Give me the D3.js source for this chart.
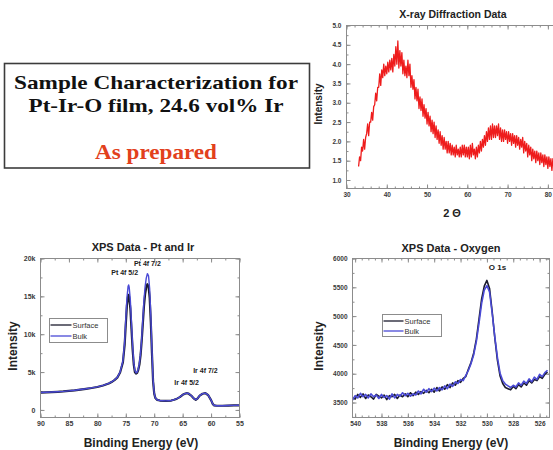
<!DOCTYPE html>
<html><head><meta charset="utf-8">
<script src="https://cdn.jsdelivr.net/npm/d3@7"></script>
<style>
html,body{margin:0;padding:0;background:#fff;}
svg{display:block;}
</style></head>
<body>
<script>
// ---------- DATA ----------
const titleLines = ["Sample Characterization for", "Pt-Ir-O film, 24.6 vol% Ir"];
const subTitle = "As prepared";

// X-ray diffraction (2 theta vs intensity)
const xrdTheta = [33,33.25,33.5,33.75,34,34.25,34.5,34.75,35,35.25,35.5,35.75,36,36.25,36.5,36.75,37,37.25,37.5,37.75,
38,38.25,38.5,38.75,39,39.25,39.5,39.75,40,40.25,40.5,40.75,41,41.25,41.5,41.75,42,42.25,42.5,42.75,
43,43.25,43.5,43.75,44,44.25,44.5,44.75,45,45.25,45.5,45.75,46,46.25,46.5,46.75,47,47.25,47.5,47.75,
48,48.25,48.5,48.75,49,49.25,49.5,49.75,50,50.25,50.5,50.75,51,51.25,51.5,51.75,52,52.25,52.5,52.75,
53,53.25,53.5,53.75,54,54.25,54.5,54.75,55,55.25,55.5,55.75,56,56.25,56.5,56.75,57,57.25,57.5,57.75,
58,58.25,58.5,58.75,59,59.25,59.5,59.75,60,60.25,60.5,60.75,61,61.25,61.5,61.75,62,62.25,62.5,62.75,
63,63.25,63.5,63.75,64,64.25,64.5,64.75,65,65.25,65.5,65.75,66,66.25,66.5,66.75,67,67.25,67.5,67.75,
68,68.25,68.5,68.75,69,69.25,69.5,69.75,70,70.25,70.5,70.75,71,71.25,71.5,71.75,72,72.25,72.5,72.75,
73,73.25,73.5,73.75,74,74.25,74.5,74.75,75,75.25,75.5,75.75,76,76.25,76.5,76.75,77,77.25,77.5,77.75,
78,78.25,78.5,78.75,79,79.25,79.5,79.75,80,80.25,80.5,80.75,81,81.25,81.5,81.75,82,82.25,82.5,82.75,83];
const xrdIntensity = [1.35,1.6,1.5,1.85, 1.75,2.05,1.8,2.1, 2.2,2.45,2.15,2.5, 2.5,2.75,2.55,2.9, 2.95,3.25,3.05,3.4,
3.4,3.75,3.45,3.85, 3.65,4.0,3.7,3.95, 3.75,4.05,3.8,4.1, 3.85,4.15,3.8,4.25, 3.95,4.45,4.0,4.6,
3.9,4.35,3.95,4.3, 3.75,4.1,3.7,3.95, 3.65,4.1,3.7,4.0, 3.4,3.7,3.35,3.6, 3.1,3.4,3.05,3.35,
2.85,3.15,2.8,3.1, 2.65,2.95,2.6,2.85, 2.45,2.75,2.4,2.65, 2.25,2.55,2.2,2.5, 2.1,2.4,2.05,2.3,
1.95,2.25,1.9,2.15, 1.8,2.1,1.8,2.0, 1.7,2.0,1.7,1.95, 1.65,1.9,1.65,1.85, 1.6,1.9,1.65,1.8,
1.6,1.85,1.6,1.9, 1.65,1.9,1.6,1.85, 1.6,1.85,1.55,1.9, 1.6,1.95,1.65,1.8, 1.55,1.85,1.6,1.9,
1.7,2.0,1.75,2.05, 1.85,2.15,1.9,2.25, 2.0,2.35,2.05,2.4, 2.05,2.45,2.1,2.4, 2.1,2.4,2.15,2.45,
2.05,2.35,2.0,2.3, 2.0,2.3,2.05,2.25, 1.95,2.25,2.0,2.2, 1.9,2.2,1.95,2.15, 1.85,2.15,1.9,2.1,
1.8,2.05,1.85,2.1, 1.7,2.0,1.75,1.95, 1.6,1.9,1.65,1.85, 1.5,1.8,1.55,1.75, 1.45,1.75,1.5,1.7,
1.4,1.7,1.45,1.65, 1.35,1.65,1.4,1.6, 1.3,1.6,1.35,1.55, 1.25,1.55,1.3,1.5, 1.2,1.45,1.2,1.4, 1.15];
const xrdXTicks = [30,40,50,60,70,80];
const xrdXTickLabels = ["30","40","50","60","70","80"];
const xrdYTicks = [1.0,1.5,2.0,2.5,3.0,3.5,4.0,4.5,5.0];
const xrdYTickLabels = ["1.0","1.5","2.0","2.5","3.0","3.5","4.0","4.5","5.0"];

// XPS Pt and Ir
const ptEnergy = [90,89,88,87,86,85,84,83,82,81, 80,79,78,77.5,77,76.5,76,75.5,75.2,75,
74.8,74.6,74.5,74.4,74.2,74,73.8,73.6,73.4,73.2, 73,72.8,72.6,72.4,72.2,72,71.8,71.6,71.4,71.2,
71,70.8,70.6,70.4,70.2,70,69.8,69.5,69,68, 67,66.5,66,65.5,65,64.5,64.2,64,63.5,63,
62.7,62.4,62,61.5,61,60.5,60,59.7,59.5,59, 58,57,56,55];
const ptSurface = [2280,2320,2350,2390,2440,2510,2590,2690,2790,2900, 3030,3230,3480,3680,3930,4270,4950,6300,8600,11300,
13800,15000,15200,14900,13400,10700,8000,6000,5000,4800, 4900,5300,6000,7200,9100,11400,13700,15300,16200,16600,
16300,14800,11600,7500,3800,2150,1580,1330,1240,1190, 1240,1340,1490,1690,1990,2170,2210,2170,1890,1490,
1340,1490,1890,2140,2210,1940,1290,790,610,550, 550,570,590,610];
const ptBulk = [2300,2330,2360,2400,2450,2520,2600,2700,2800,2920, 3050,3250,3500,3700,3950,4300,5000,6500,9000,12000,
14800,16300,16500,16200,14500,11500,8500,6300,5200,4900, 5000,5400,6200,7500,9500,12000,14500,16300,17400,18000,
17700,16000,12500,8000,4000,2200,1600,1350,1250,1200, 1250,1350,1500,1700,2000,2180,2220,2180,1900,1500,
1350,1500,1900,2150,2220,1950,1300,800,620,560, 560,580,600,620];
const ptXTicks = [90,85,80,75,70,65,60,55];
const ptXTickLabels = ["90","85","80","75","70","65","60","55"];
const ptYTicks = [0,5000,10000,15000,20000];
const ptYTickLabels = ["0","5k","10k","15k","20k"];
const ptPeakLabels = ["Pt 4f 7/2","Pt 4f 5/2","Ir 4f 7/2","Ir 4f 5/2"];
const ptPeakEnergy = [71.2,75.2,61.0,64.3];
const ptPeakLevel = [19000,17800,4900,3300];

// XPS Oxygen
const oEnergy = [540.2,540,539.8,539.6,539.4, 539.2,539,538.8,538.6,538.4, 538.2,538,537.8,537.6,537.4,
537.2,537,536.8,536.6,536.4, 536.2,536,535.8,535.6,535.4, 535.2,535,534.8,534.6,534.4,
534.2,534,533.8,533.6,533.4, 533.2,533,532.8,532.6,532.4, 532.2,532,531.8,531.6,531.4,
531.2,531,530.8,530.6,530.4, 530.2,530,529.8,529.6,529.4, 529.2,529,528.8,528.6,528.4,
528.2,528,527.8,527.6,527.4, 527.2,527,526.8,526.6,526.4, 526.2,526,525.8,525.6,525.4];
const oSurface = [3580,3560,3640,3590,3650, 3570,3630,3600,3560,3640, 3610,3580,3630,3550,3620,
3600,3640,3570,3630,3600, 3650,3600,3670,3620,3680, 3640,3690,3660,3710,3670,
3730,3680,3760,3700,3770, 3730,3810,3760,3840,3800, 3880,3850,3920,3950,4080,
4200,4360,4600,4950,5300, 5520,5620,5480,5080,4620, 4230,3960,3830,3760,3740,
3720,3780,3740,3810,3770, 3840,3800,3880,3840,3900, 3880,3950,3920,3990,4030];
const oBulk = [3540,3620,3580,3660,3600, 3640,3580,3650,3600,3630, 3570,3640,3590,3620,3560,
3650,3580,3640,3610,3670, 3620,3660,3610,3650,3630, 3700,3650,3730,3680,3740,
3690,3750,3700,3760,3720, 3790,3740,3820,3780,3860, 3830,3900,3880,3970,4060,
4180,4330,4560,4880,5220, 5450,5530,5420,5050,4640, 4280,4010,3880,3820,3790,
3760,3800,3770,3840,3800, 3870,3830,3910,3860,3940, 3900,3990,3950,4020,4060];
const oXTicks = [540,538,536,534,532,530,528,526];
const oXTickLabels = ["540","538","536","534","532","530","528","526"];
const oYTicks = [3500,4000,4500,5000,5500,6000];
const oYTickLabels = ["3500","4000","4500","5000","5500","6000"];
const oPeakLabels = ["O 1s"];
const oPeakEnergy = [529.2];
const oPeakLevel = [5800];

const seriesNames = ["Surface","Bulk"];

// ---------- DRAW ----------
const W = 553, H = 450;
const svg = d3.select("body").append("svg").attr("width", W).attr("height", H);
const SANS = "Liberation Sans, Arial, Helvetica, sans-serif";
const FRAME = "#8c8c8c";
const TICKTXT = "#3a3a3a";

// Title box
svg.append("rect").attr("x",4.5).attr("y",63.5).attr("width",305).attr("height",104.5)
  .attr("fill","none").attr("stroke","#3c3c3c").attr("stroke-width",1.6);
const titleFont = "Liberation Serif, Times New Roman, serif";
const titleWidths = [284, 255];
titleLines.forEach((t,i)=>{
  svg.append("text").attr("x",156).attr("y",[89,112][i]).attr("text-anchor","middle")
    .attr("font-family",titleFont).attr("font-weight","bold").attr("font-size",19.5)
    .attr("textLength",titleWidths[i]).attr("lengthAdjust","spacingAndGlyphs")
    .attr("fill","#111").text(t);
});
svg.append("text").attr("x",156).attr("y",159).attr("text-anchor","middle")
  .attr("font-family",titleFont).attr("font-weight","bold").attr("font-size",21)
  .attr("textLength",122).attr("lengthAdjust","spacingAndGlyphs")
  .attr("fill","#e2401c").text(subTitle);

function drawPanel(p){
  const x = d3.scaleLinear().domain(p.xDomain).range([p.left,p.right]);
  const y = d3.scaleLinear().domain(p.yDomain).range([p.bottom,p.top]);
  const g = svg.append("g");
  const clipId = p.id + "-clip";
  svg.append("clipPath").attr("id",clipId).append("rect")
    .attr("x",p.left).attr("y",p.top).attr("width",p.right-p.left).attr("height",p.bottom-p.top);

  // minor ticks
  const xMinor = d3.range(p.xMinor[0], p.xMinor[1]+1e-9, p.xMinor[2]);
  const yMinor = d3.range(p.yMinor[0], p.yMinor[1]+1e-9, p.yMinor[2]);
  const styleAxis = sel => { sel.select(".domain").remove(); sel.selectAll("line").attr("stroke",FRAME); };
  const minor = [
    [d3.axisBottom(x), p.bottom, "x"],[d3.axisTop(x), p.top, "x"],
    [d3.axisLeft(y), p.left, "y"],[d3.axisRight(y), p.right, "y"]];
  minor.forEach(([ax,pos,dim])=>{
    ax.tickValues(dim==="x"?xMinor:yMinor).tickSizeInner(-2).tickSizeOuter(0).tickFormat("");
    g.append("g").attr("transform", dim==="x"?`translate(0,${pos})`:`translate(${pos},0)`).call(ax).call(styleAxis);
  });
  // major ticks (labels on bottom/left)
  const axB = d3.axisBottom(x).tickValues(p.xTicks).tickSizeInner(-4).tickSizeOuter(0).tickPadding(4)
    .tickFormat((d,i)=>p.xTickLabels[i]);
  const axT = d3.axisTop(x).tickValues(p.xTicks).tickSizeInner(-4).tickSizeOuter(0).tickFormat("");
  const axL = d3.axisLeft(y).tickValues(p.yTicks).tickSizeInner(-4).tickSizeOuter(0).tickPadding(p.yPad||5)
    .tickFormat((d,i)=>p.yTickLabels[i]);
  const axR = d3.axisRight(y).tickValues(p.yTicks).tickSizeInner(-4).tickSizeOuter(0).tickFormat("");
  const lab = sel => sel.selectAll("text").attr("font-family",SANS).attr("font-size",p.tickFont||7)
    .attr("font-weight","bold").attr("fill",TICKTXT);
  g.append("g").attr("transform",`translate(0,${p.bottom})`).call(axB).call(styleAxis).call(lab);
  g.append("g").attr("transform",`translate(0,${p.top})`).call(axT).call(styleAxis);
  g.append("g").attr("transform",`translate(${p.left},0)`).call(axL).call(styleAxis).call(lab);
  g.append("g").attr("transform",`translate(${p.right},0)`).call(axR).call(styleAxis);

  // data
  const line = d3.line().x(d=>x(d[0])).y(d=>y(d[1]));
  p.series.forEach(s=>{
    g.append("path").datum(s.x.map((v,i)=>[v,s.y[i]]))
      .attr("clip-path",`url(#${clipId})`).attr("fill","none")
      .attr("stroke",s.color).attr("stroke-width",s.width).attr("stroke-linejoin","round")
      .attr("d",line);
  });

  // frame
  g.append("rect").attr("x",p.left).attr("y",p.top).attr("width",p.right-p.left).attr("height",p.bottom-p.top)
    .attr("fill","none").attr("stroke",FRAME).attr("stroke-width",1);

  // titles
  g.append("text").attr("x",p.titleX).attr("y",p.titleY).attr("text-anchor","middle")
    .attr("font-family",SANS).attr("font-weight","bold").attr("font-size",p.titleSize).attr("fill","#222").text(p.title);
  g.append("text").attr("x",p.xLabelX).attr("y",p.xLabelY).attr("text-anchor","middle")
    .attr("font-family",SANS).attr("font-weight","bold").attr("font-size",p.xLabelSize).attr("fill","#222").text(p.xLabel);
  g.append("text").attr("transform",`translate(${p.yLabelX},${p.yLabelY}) rotate(-90)`).attr("text-anchor","middle")
    .attr("font-family",SANS).attr("font-weight","bold").attr("font-size",p.yLabelSize).attr("fill","#222").text(p.yLabel);

  // annotations
  (p.notes||[]).forEach(n=>{
    g.append("text").attr("x",x(n.e)).attr("y",y(n.v)).attr("text-anchor","middle")
      .attr("font-family",SANS).attr("font-size",n.size).attr("font-weight",600).attr("fill","#222").text(n.t);
  });

  // legend
  if (p.legend){
    const L = p.legend;
    g.append("rect").attr("x",L.x).attr("y",L.y).attr("width",L.w).attr("height",L.h)
      .attr("fill","#fff").attr("stroke",FRAME).attr("stroke-width",1);
    p.series.forEach((s,i)=>{
      const ly = L.y + L.rows[i];
      g.append("line").attr("x1",L.x+1).attr("x2",L.x+L.lineLen).attr("y1",ly).attr("y2",ly)
        .attr("stroke",s.color).attr("stroke-width",1.3);
      g.append("text").attr("x",L.x+L.lineLen+1).attr("y",ly).attr("dy","0.35em")
        .attr("font-family",SANS).attr("font-size",7.5).attr("fill","#333").text(s.name);
    });
  }
  return {x,y};
}

// XRD panel
drawPanel({
  id:"xrd", left:346.5, right:568, top:25.5, bottom:188.5,
  xDomain:[30,85], yDomain:[0.78,5.0],
  xTicks:xrdXTicks, xTickLabels:xrdXTickLabels, yTicks:xrdYTicks, yTickLabels:xrdYTickLabels,
  xMinor:[30,85,2], yMinor:[1.0,5.0,0.25], tickFont:6.5,
  series:[{x:xrdTheta,y:xrdIntensity,color:"#ee1c1c",width:1.3,name:"XRD"}],
  title:"X-ray Diffraction Data", titleX:453, titleY:18, titleSize:10.5,
  xLabel:"2 \u0398", xLabelX:452, xLabelY:217, xLabelSize:11,
  yLabel:"Intensity", yLabelX:322, yLabelY:104, yLabelSize:10
});

// XPS Pt / Ir
drawPanel({
  id:"pt", left:40.5, right:239.5, top:258.5, bottom:417.5,
  xDomain:[90,55], yDomain:[-1000,20000],
  xTicks:ptXTicks, xTickLabels:ptXTickLabels, yTicks:ptYTicks, yTickLabels:ptYTickLabels,
  xMinor:[55,90,2.5], yMinor:[0,20000,2500], tickFont:7,
  series:[
    {x:ptEnergy,y:ptSurface,color:"#1b1b2e",width:2.2,name:seriesNames[0]},
    {x:ptEnergy,y:ptBulk,color:"#4a4ad6",width:1.4,name:seriesNames[1]}],
  title:"XPS Data - Pt and Ir", titleX:143, titleY:251, titleSize:11,
  xLabel:"Binding Energy (eV)", xLabelX:141, xLabelY:447, xLabelSize:12,
  yLabel:"Intensity", yLabelX:17, yLabelY:346, yLabelSize:12,
  notes: ptPeakLabels.map((t,i)=>({t, e:ptPeakEnergy[i], v:ptPeakLevel[i], size:7})),
  legend:{x:49.5,y:318.5,w:58,h:24,lineLen:22,rows:[6.5,17.5]}
});

// XPS Oxygen
drawPanel({
  id:"ox", left:352.5, right:549.5, top:258.5, bottom:417.5,
  xDomain:[540.2,525.25], yDomain:[3240,6000],
  xTicks:oXTicks, xTickLabels:oXTickLabels, yTicks:oYTicks, yTickLabels:oYTickLabels,
  xMinor:[525.5,540,0.5], yMinor:[3250,6000,250], tickFont:6.5,
  series:[
    {x:oEnergy,y:oSurface,color:"#1b1b2e",width:1.6,name:seriesNames[0]},
    {x:oEnergy,y:oBulk,color:"#4a4ad6",width:1.6,name:seriesNames[1]}],
  title:"XPS Data - Oxygen", titleX:451, titleY:252, titleSize:11,
  xLabel:"Binding Energy (eV)", xLabelX:451, xLabelY:447, xLabelSize:12,
  yLabel:"Intensity", yLabelX:323, yLabelY:346, yLabelSize:12,
  notes: oPeakLabels.map((t,i)=>({t, e:oPeakEnergy[i], v:oPeakLevel[i], size:8})),
  legend:{x:382.5,y:314.5,w:59,h:22,lineLen:21,rows:[6.5,16.5]}
});
</script>
</body></html>
